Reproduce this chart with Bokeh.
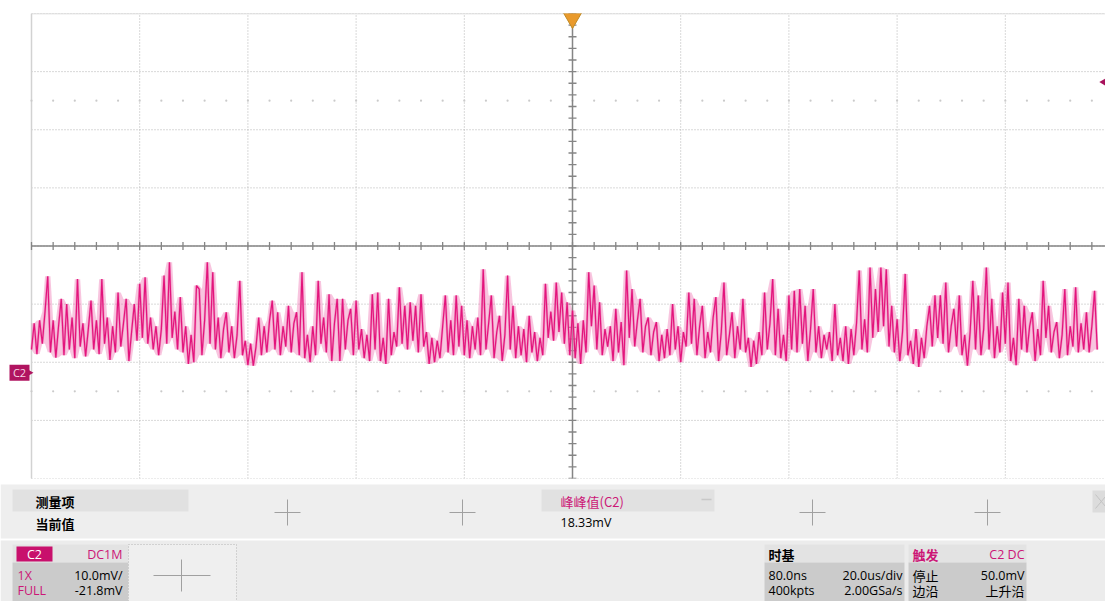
import numpy as np
import pandas as pd
from bokeh.plotting import figure
from bokeh.layouts import column
from bokeh.models import Range1d
from bokeh.core.properties import value
from bokeh.embed import file_html
from bokeh.resources import INLINE

# ---------------- scope settings / data ----------------
TIME_DIV_US = 20.0          # 20.0us/div
VOLT_DIV_MV = 10.0          # 10.0mV/div
OFFSET_MV = 21.8            # screen centre above the C2 ground marker
TRIGGER_LEVEL_MV = 50.0
SAMPLE_STEP_US = 0.5
T_START_US = -100.0
N_HDIV = 10
N_VDIV = 8

c2_mv = [
    4.0, 8.5, 3.2, 9.0, 5.0, 10.5, 16.6, 3.5, 9.0, 2.6, 8.0, 12.7, 3.0, 11.8, 4.0, 9.5, 2.5, 16.1, 4.5, 8.5,
    2.8, 7.5, 12.4, 4.0, 9.0, 3.2, 16.1, 5.0, 9.5, 2.2, 8.0, 3.5, 13.8, 4.5, 8.5, 12.7, 2.0, 7.0, 11.8, 5.5,
    15.3, 6.0, 16.4, 5.0, 9.5, 4.0, 8.0, 3.0, 7.5, 16.7, 5.0, 19.0, 6.0, 10.5, 4.0, 13.0, 3.5, 8.0, 1.5, 6.5,
    1.8, 15.0, 14.4, 3.0, 9.0, 19.0, 5.0, 17.3, 4.0, 9.5, 2.5, 7.5, 10.4, 3.5, 8.0, 2.5, 6.5, 15.8, 3.0, 5.5,
    1.3, 5.0, 1.2, 4.5, 9.5, 3.0, 8.0, 3.5, 9.0, 12.4, 4.0, 10.4, 3.0, 8.0, 4.5, 11.5, 3.5, 8.5, 10.4,
    3.0, 17.3, 2.5, 6.5, 1.8, 8.0, 3.0, 15.8, 5.0, 9.5, 3.5, 13.5, 2.0, 8.5, 12.7, 2.0, 12.7, 4.0, 9.0, 11.0,
    3.0, 12.4, 4.0, 7.5, 2.5, 6.5, 2.0, 13.5, 4.0, 13.8, 2.0, 6.0, 1.5, 12.7, 3.0, 7.0, 4.5, 14.7, 5.0, 11.5,
    4.0, 12.1, 5.5, 11.5, 3.5, 13.5, 4.5, 7.0, 1.5, 6.0, 1.8, 5.5, 2.5, 8.0, 13.3, 3.5, 9.0, 3.0, 13.3, 4.5,
    11.5, 3.0, 9.0, 2.5, 8.0, 4.0, 9.5, 3.0, 17.8, 4.0, 8.5, 13.3, 2.5, 7.0, 9.8, 2.0, 6.5, 16.7, 4.0, 11.5,
    2.5, 8.0, 3.0, 7.5, 1.8, 9.8, 3.5, 7.0, 2.0, 6.0, 3.0, 15.3, 6.0, 10.5, 5.5, 15.5, 7.0, 13.8, 5.0, 12.1,
    3.0, 10.7, 2.5, 8.5, 1.5, 9.0, 3.5, 17.3, 8.0, 15.0, 4.0, 12.1, 3.0, 7.5, 4.5, 8.0, 2.0, 11.0, 3.5, 8.7,
    1.3, 17.6, 6.0, 14.4, 4.5, 9.0, 12.7, 3.5, 8.0, 9.5, 3.0, 7.0, 8.7, 2.0, 6.5, 2.5, 7.5, 3.0, 11.8, 4.0,
    8.0, 1.8, 7.0, 4.5, 13.8, 5.0, 12.7, 3.0, 8.0, 11.5, 2.5, 7.0, 3.5, 9.5, 13.0, 2.0, 7.0, 15.5, 3.0, 6.5,
    10.4, 2.5, 8.0, 4.0, 12.7, 3.5, 6.0, 1.0, 5.5, 1.5, 7.0, 3.0, 13.8, 4.0, 8.5, 16.1, 3.0, 11.0, 2.5, 6.5,
    2.0, 13.3, 4.0, 14.1, 3.5, 14.4, 5.0, 11.5, 2.0, 7.5, 14.4, 3.5, 8.0, 2.5, 6.5, 4.0, 7.0, 2.0, 11.8, 3.0,
    6.0, 2.0, 8.0, 1.5, 7.5, 3.0, 8.5, 17.6, 4.0, 9.2, 3.5, 18.1, 6.0, 14.4, 7.0, 18.1, 8.0, 17.8, 4.5, 11.5,
    3.5, 9.2, 2.0, 7.0, 17.0, 3.0, 5.5, 1.5, 7.5, 1.0, 6.0, 2.5, 8.0, 11.5, 4.5, 13.3, 6.0, 13.3, 5.0, 15.5,
    3.5, 8.0, 11.0, 4.5, 13.3, 3.0, 6.5, 1.2, 7.0, 15.8, 4.0, 13.3, 3.0, 7.5, 18.1, 4.0, 12.7, 2.5, 8.0, 3.5,
    13.8, 5.0, 15.5, 2.0, 6.0, 1.3, 12.7, 4.0, 11.5, 3.5, 8.0, 10.4, 2.0, 7.5, 3.0, 15.8, 6.0, 11.5, 3.5, 7.0,
    8.7, 2.5, 6.5, 14.4, 3.0, 8.0, 4.5, 14.7, 3.5, 8.5, 4.0, 10.4, 3.5, 8.0, 14.1, 4.0,
]
t_us = T_START_US + SAMPLE_STEP_US * np.arange(len(c2_mv))

# panel texts
meas_header = "测量项"
meas_value_label = "当前值"
meas_name = "峰峰值(C2)"
meas_value = "18.33mV"
ch_name = "C2"
ch_coupling = "DC1M"
ch_rows = [("1X", "10.0mV/"), ("FULL", "-21.8mV")]
tb_title = "时基"
tb_rows = [("80.0ns", "20.0us/div"), ("400kpts", "2.00GSa/s")]
trig_title = "触发"
trig_src = "C2 DC"
trig_rows = [("停止", "50.0mV"), ("边沿", "上升沿")]

# ---------------- layout / styles ----------------
W, H_TOP, H_BOT = 1105, 481, 120
GRID_LEFT_PX, GRID_TOP_PX, GRID_BOTTOM_PX = 31, 13, 478
PX_PER_DIV_X = 108.2
FONT_CJK = value("Noto Sans CJK SC")
FONT_LAT = value("Open Sans")
MAGENTA = "#cc1676"
TRACE = "#e3147c"
GRID = "#b2b2b2"
AXIS = "#858585"

us_per_px = TIME_DIV_US / PX_PER_DIV_X
x_lo = -N_HDIV / 2 * TIME_DIV_US                       # left grid edge
x_view_lo = x_lo - GRID_LEFT_PX * us_per_px            # includes left margin
x_view_hi = x_lo + (W - GRID_LEFT_PX) * us_per_px
y_lo = OFFSET_MV - N_VDIV / 2 * VOLT_DIV_MV
y_hi = OFFSET_MV + N_VDIV / 2 * VOLT_DIV_MV

p = figure(width=W, height=H_TOP, x_range=Range1d(x_view_lo, x_view_hi), y_range=Range1d(y_lo, y_hi),
           output_backend="svg", toolbar_location=None,
           min_border_left=0, min_border_right=0, min_border_top=GRID_TOP_PX,
           min_border_bottom=H_TOP - GRID_BOTTOM_PX)
p.axis.visible = False
p.grid.visible = False
p.outline_line_color = None
p.background_fill_color = "white"
p.border_fill_color = "white"

# dotted grid (drawn only to the right of the left margin)
vx = x_lo + TIME_DIV_US * np.arange(N_HDIV + 1)
hy = y_lo + VOLT_DIV_MV * np.arange(N_VDIV + 1)
p.segment(x0=vx, y0=[y_lo] * len(vx), x1=vx, y1=[y_hi] * len(vx),
          line_color=GRID, line_dash="1 2", line_width=1)
p.segment(x0=[x_lo] * len(hy), y0=hy, x1=[x_view_hi] * len(hy), y1=hy,
          line_color=GRID, line_dash="1 2", line_width=1)
# light frame border (top & left)
p.segment(x0=[x_lo, x_lo], y0=[y_lo, y_hi], x1=[x_lo, x_view_hi], y1=[y_hi, y_hi],
          line_color="#d2d2d2", line_width=1.5)

# faint half-division dot rows
minor_x = x_lo + TIME_DIV_US / 5 * np.arange(N_HDIV * 5 + 1)
for lvl in (OFFSET_MV + 2.5 * VOLT_DIV_MV, OFFSET_MV - 2.5 * VOLT_DIV_MV):
    p.scatter(minor_x, [lvl] * len(minor_x), marker="circle", size=2.2,
              fill_color="#cacaca", line_color=None)

# centre axes with ticks
p.segment(x0=[x_lo], y0=[OFFSET_MV], x1=[x_view_hi], y1=[OFFSET_MV], line_color=AXIS, line_width=1.5)
p.segment(x0=[0], y0=[y_lo], x1=[0], y1=[y_hi], line_color=AXIS, line_width=1.5)
p.scatter(minor_x, [OFFSET_MV] * len(minor_x), marker="dash", angle=np.pi / 2, size=8,
          line_color=AXIS, line_width=1.3)
minor_y = y_lo + VOLT_DIV_MV / 5 * np.arange(N_VDIV * 5 + 1)
p.scatter([0] * len(minor_y), minor_y, marker="dash", size=8, line_color=AXIS, line_width=1.3)

# trace: light band of the local spread, then the trace itself
s = pd.Series(c2_mv)
band_lo = s.rolling(3, center=True, min_periods=1).min()
band_hi = s.rolling(3, center=True, min_periods=1).max()
p.varea(x=t_us, y1=band_lo, y2=band_hi, fill_color="#ee6fae", fill_alpha=0.4)
p.line(t_us, c2_mv, line_color="#ec6aab", line_width=2.4, line_alpha=0.55)
p.line(t_us, c2_mv, line_color=TRACE, line_width=1.2)

# trigger position marker & trigger level marker
p.scatter([0], [y_hi - 0.8], marker="inverted_triangle", size=18,
          fill_color="#e99a2c", line_color="#c08a22")
p.scatter([x_view_hi - 0.4], [TRIGGER_LEVEL_MV], marker="triangle", angle=np.pi / 2, size=7,
          fill_color="#a8125c", line_color=None)

# channel ground marker (in the left margin)
mark_x = x_lo - 12 * us_per_px
p.rect(x=[mark_x], y=[0], width=20, height=16, width_units="screen", height_units="screen",
       fill_color="#b01460", line_color=None)
p.scatter([x_lo - 1.5 * us_per_px], [0], marker="triangle", angle=-np.pi / 2, size=6,
          fill_color="#b01460", line_color=None)
p.text(x=[mark_x], y=[0], text=[ch_name], text_color="#f8d6e6", text_align="center",
       text_baseline="middle", text_font=FONT_LAT, text_font_size="11px")

# ---------------- bottom panel (page pixel layout) ----------------
top0 = H_TOP
q = figure(width=W, height=H_BOT, x_range=Range1d(0, W), y_range=Range1d(top0 + H_BOT, top0),
           output_backend="svg", toolbar_location=None,
           min_border_left=0, min_border_right=0, min_border_top=0, min_border_bottom=0)
q.axis.visible = False
q.grid.visible = False
q.outline_line_color = None
q.background_fill_color = "white"
q.border_fill_color = "white"

# backgrounds
q.quad(left=[0], right=[W], top=[484], bottom=[538], fill_color="#eeeeee", line_color=None)
q.quad(left=[0], right=[W], top=[540], bottom=[601], fill_color="#ececec", line_color=None)
# measurement highlights
q.quad(left=[12, 541], right=[188, 714], top=[489, 489], bottom=[511, 511],
       fill_color="#e1e1e1", line_color=None)
q.quad(left=[1092], right=[1105], top=[490], bottom=[512], fill_color="#dcdcdc", line_color=None)
q.segment(x0=[1095, 1095], y0=[494, 508], x1=[1105, 1105], y1=[506, 496], line_color="#c4c4c4", line_width=1)
q.segment(x0=[701], y0=[499], x1=[711], y1=[499], line_color="#c8c8c8", line_width=1.5)

# crosses
cx = [287, 462, 812, 987]
q.segment(x0=[c - 13 for c in cx], y0=[512] * 4, x1=[c + 13 for c in cx], y1=[512] * 4,
          line_color="#a0a0a0", line_width=1)
q.segment(x0=cx, y0=[499] * 4, x1=cx, y1=[525] * 4, line_color="#a0a0a0", line_width=1)

# info boxes
boxes = [(12, 128), (764, 904), (908, 1026)]
q.quad(left=[b[0] for b in boxes], right=[b[1] for b in boxes], top=[544] * 3, bottom=[562] * 3,
       fill_color="#e3e3e3", line_color=None)
q.quad(left=[b[0] for b in boxes], right=[b[1] for b in boxes], top=[562] * 3, bottom=[601] * 3,
       fill_color="#cbcbcb", line_color=None)
q.quad(left=[16], right=[52], top=[546], bottom=[561], fill_color="#c8106c", line_color=None)
# dotted "+" box
q.quad(left=[128], right=[236], top=[544], bottom=[601], fill_color="#efefef",
       line_color="#b5b5b5", line_dash="1 2")
q.segment(x0=[153, 181], y0=[575, 559], x1=[210, 181], y1=[575, 591], line_color="#a0a0a0", line_width=1)

def txt(x, y, s, color="black", align="left", bold=False, latin=False):
    q.text(x=[x], y=[y], text=[s], text_color=color, text_align=align, text_baseline="middle",
           text_font=FONT_LAT if latin else FONT_CJK,
           text_font_size="12.5px" if latin else "13px",
           text_font_style="bold" if bold else "normal")

txt(35, 501, meas_header, bold=True)
txt(35, 523, meas_value_label, bold=True)
txt(560, 501, meas_name, color=MAGENTA)
txt(560, 522, meas_value, latin=True)

ROWS = [554, 575, 590]
txt(34, ROWS[0], ch_name, color="white", align="center", latin=True)
txt(122, ROWS[0], ch_coupling, color=MAGENTA, align="right", latin=True)
for k, (a, b) in enumerate(ch_rows):
    txt(17, ROWS[k + 1], a, color=MAGENTA, latin=True)
    txt(122, ROWS[k + 1], b, align="right", latin=True)

txt(768, ROWS[0], tb_title, bold=True)
for k, (a, b) in enumerate(tb_rows):
    txt(768, ROWS[k + 1], a, latin=True)
    txt(902, ROWS[k + 1], b, align="right", latin=True)

txt(912, ROWS[0], trig_title, color=MAGENTA, bold=True)
txt(1024, ROWS[0], trig_src, color=MAGENTA, align="right", latin=True)
for k, (a, b) in enumerate(trig_rows):
    txt(912, ROWS[k + 1], a)
    txt(1024, ROWS[k + 1], b, align="right", latin=(k == 0))

layout = column(p, q, spacing=0)
open("out.html", "w").write(file_html(layout, INLINE))
